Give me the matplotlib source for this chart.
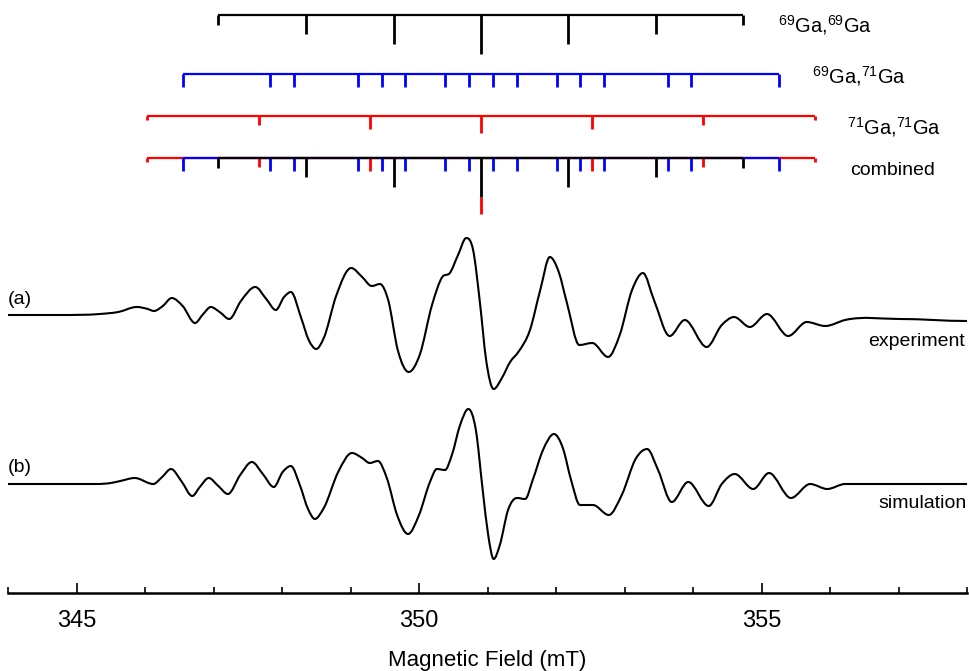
import numpy as np
import matplotlib
matplotlib.use('Agg')
import matplotlib.pyplot as plt
from matplotlib.path import Path
from matplotlib.patches import PathPatch

plt.rcParams['font.family'] = ['Liberation Sans', 'DejaVu Sans']
plt.rcParams['mathtext.fontset'] = 'custom'
plt.rcParams['mathtext.rm'] = 'Liberation Sans'
plt.rcParams['mathtext.it'] = 'Liberation Sans:italic'
plt.rcParams['mathtext.bf'] = 'Liberation Sans:bold'

# ---------------- data ----------------
# stick spectra: line positions (mT) and relative intensities
ga69_69_field = [347.07, 348.35, 349.63, 350.905, 352.18, 353.46, 354.73]
ga69_69_int = [0.023, 0.045, 0.068, 0.090, 0.068, 0.045, 0.023]

ga69_71_field = [346.555, 347.832, 348.178, 349.109, 349.455, 349.801, 350.386, 350.732,
                 351.078, 351.424, 352.009, 352.355, 352.701, 353.632, 353.978, 355.255]
ga69_71_int = [0.030, 0.030, 0.030, 0.030, 0.030, 0.030, 0.030, 0.030,
               0.030, 0.030, 0.030, 0.030, 0.030, 0.030, 0.030, 0.030]

ga71_71_field = [346.036, 347.66, 349.28, 350.905, 352.53, 354.15, 355.774]
ga71_71_int = [0.010, 0.020, 0.030, 0.040, 0.030, 0.020, 0.010]

# experimental spectrum (field in mT, signal in arbitrary units)
exp_field = [344.00, 344.76, 345.34, 345.61, 345.88, 346.04, 346.13, 346.26, 346.39, 346.55,
             346.73, 346.85, 346.96, 347.09, 347.23, 347.40, 347.61, 347.77, 347.91, 348.03,
             348.13, 348.28, 348.39, 348.50, 348.61, 348.79, 349.01, 349.17, 349.31, 349.43,
             349.55, 349.69, 349.85, 350.01, 350.19, 350.34, 350.45, 350.57, 350.69, 350.79,
             350.89, 350.98, 351.09, 351.21, 351.33, 351.45, 351.62, 351.77, 351.91, 352.04,
             352.16, 352.34, 352.53, 352.76, 352.93, 353.11, 353.27, 353.43, 353.66, 353.88,
             354.20, 354.42, 354.60, 354.83, 355.08, 355.39, 355.66, 355.93, 356.22, 357.02,
             358.00]
exp_signal = [0, 0, 1, 3, 8, 6, 4, 9, 17, 9,
              -8, 1, 8, 3, -4, 14, 28, 16, 5, 18,
              23, -3, -25, -34, -23, 19, 47, 38, 29, 31,
              15, -35, -57, -40, 10, 38, 42, 60, 77, 65,
              12, -45, -74, -63, -47, -37, -15, 25, 58, 43,
              12, -30, -28, -42, -20, 25, 42, 15, -21, -5,
              -32, -10, -2, -12, 1, -21, -7, -11, -5, -4,
              -6]

# simulated spectrum
sim_field = [344.00, 345.30, 345.50, 345.64, 345.85, 346.12, 346.25, 346.38, 346.53, 346.69,
             346.80, 346.93, 347.07, 347.21, 347.39, 347.56, 347.72, 347.88, 348.01, 348.13,
             348.26, 348.38, 348.48, 348.61, 348.82, 349.02, 349.17, 349.28, 349.40, 349.53,
             349.68, 349.84, 350.00, 350.16, 350.26, 350.38, 350.48, 350.60, 350.72, 350.83,
             350.93, 351.01, 351.09, 351.18, 351.30, 351.43, 351.55, 351.66, 351.81, 351.97,
             352.10, 352.22, 352.35, 352.54, 352.77, 352.96, 353.17, 353.33, 353.49, 353.69,
             353.93, 354.23, 354.42, 354.61, 354.88, 355.11, 355.43, 355.71, 355.96, 356.22,
             356.50, 358.00]
sim_signal = [0, 0, 1, 3, 6, 0, 7, 15, 3, -12,
              -3, 6, -2, -10, 9, 22, 10, -3, 12, 18,
              -1, -25, -35, -24, 12, 31, 26, 21, 23, 6,
              -31, -50, -31, 2, 15, 14, 29, 59, 75, 54,
              -6, -51, -75, -61, -26, -14, -15, 4, 34, 50,
              36, 4, -21, -21, -31, -11, 26, 35, 14, -18,
              2, -22, 0, 10, -5, 11, -14, 0, -5, 0,
              0, 0]

xticks_major = [345, 350, 355]
xtick_labels = ['345', '350', '355']
x_label = 'Magnetic Field (mT)'
iso_labels = [r'$^{69}$Ga,$^{69}$Ga', r'$^{69}$Ga,$^{71}$Ga', r'$^{71}$Ga,$^{71}$Ga']

# ---------------- layout ----------------
W, H = 969, 671
fig = plt.figure(figsize=(W / 100, H / 100), dpi=100)
ax = fig.add_axes([8 / W, 78 / H, 959 / W, 593 / H])
ax.set_xlim(344, 358)
ax.set_ylim(0, 593)

STICK_SCALE = 430
BASE_69_69, BASE_69_71, BASE_71_71, BASE_COMB = 578, 519, 477, 435
BASE_EXP, BASE_SIM = 278, 109
LW_STICK = 1.6


def smooth_path(xs, ys):
    """Cubic Hermite curve through the read points, drawn as Bezier segments."""
    x = np.asarray(xs, float)
    y = np.asarray(ys, float)
    h = np.diff(x)
    d = np.diff(y) / h
    n = len(x)
    m = np.zeros(n)
    m[0], m[-1] = 0.0, 0.0
    for k in range(1, n - 1):
        if d[k - 1] * d[k] <= 0:
            m[k] = 0.0
        else:
            m[k] = (h[k] * d[k - 1] + h[k - 1] * d[k]) / (h[k - 1] + h[k])
    verts = [(x[0], y[0])]
    codes = [Path.MOVETO]
    for k in range(n - 1):
        dx = h[k] / 3.0
        verts += [(x[k] + dx, y[k] + m[k] * dx),
                  (x[k + 1] - dx, y[k + 1] - m[k + 1] * dx),
                  (x[k + 1], y[k + 1])]
        codes += [Path.CURVE4] * 3
    return Path(verts, codes)


def draw_sticks(field, inten, base, color, offsets=None, z=2):
    field = np.asarray(field)
    h = np.asarray(inten) * STICK_SCALE
    off = np.zeros_like(h) if offsets is None else np.asarray(offsets)
    ax.plot([field[0], field[-1]], [base, base], color=color, lw=LW_STICK,
            solid_capstyle='butt', zorder=z)
    ax.vlines(field, base - off, base - off - h, color=color, lw=LW_STICK + 0.4, zorder=z)


# individual stick diagrams
draw_sticks(ga69_69_field, ga69_69_int, BASE_69_69, 'black')
draw_sticks(ga69_71_field, ga69_71_int, BASE_69_71, '#0000ff')
draw_sticks(ga71_71_field, ga71_71_int, BASE_71_71, '#ff0000')

# combined diagram (coincident lines stacked)
red_off = []
for f in ga71_71_field:
    o = 0.0
    for fb, ib in zip(ga69_69_field, ga69_69_int):
        if abs(f - fb) < 0.02:
            o += ib * STICK_SCALE
    red_off.append(o)
draw_sticks(ga71_71_field, ga71_71_int, BASE_COMB, '#ff0000', offsets=red_off, z=2)
draw_sticks(ga69_71_field, ga69_71_int, BASE_COMB, '#0000ff', z=3)
draw_sticks(ga69_69_field, ga69_69_int, BASE_COMB, 'black', z=4)

# spectra
for fx, sy, base in [(exp_field, exp_signal, BASE_EXP), (sim_field, sim_signal, BASE_SIM)]:
    p = smooth_path(fx, np.asarray(sy) + base)
    ax.add_patch(PathPatch(p, facecolor='none', edgecolor='black', lw=1.5,
                           capstyle='round', joinstyle='round'))

# text labels
FS_ISO = 14.5
FS = 14
ax.text(355.24, 561, iso_labels[0], fontsize=FS_ISO, ha='left', va='baseline')
ax.text(355.74, 510, iso_labels[1], fontsize=FS_ISO, ha='left', va='baseline')
ax.text(356.25, 459, iso_labels[2], fontsize=FS_ISO, ha='left', va='baseline')
ax.text(356.29, 418, 'combined', fontsize=FS, ha='left', va='baseline')
ax.text(344.0, 294, '(a)', fontsize=FS, ha='left', va='center')
ax.text(344.0, 125, '(b)', fontsize=FS, ha='left', va='center')
ax.text(357.97, 251, 'experiment', fontsize=FS, ha='right', va='center')
ax.text(358.0, 89, 'simulation', fontsize=FS, ha='right', va='center')

# axes styling
for s in ['left', 'right', 'top']:
    ax.spines[s].set_visible(False)
ax.spines['bottom'].set_linewidth(1.8)
ax.set_yticks([])
ax.set_xticks(xticks_major)
ax.set_xticklabels(xtick_labels)
ax.set_xticks(np.arange(344, 358.5, 1), minor=True)
ax.tick_params(axis='x', which='major', direction='in', length=7.5, width=1.2,
               labelsize=17, pad=12)
ax.tick_params(axis='x', which='minor', direction='in', length=4.5, width=1.2)
ax.set_xlabel(x_label, fontsize=16, labelpad=13.5)
ax.patch.set_alpha(0)

fig.savefig('out.png', dpi=100)
